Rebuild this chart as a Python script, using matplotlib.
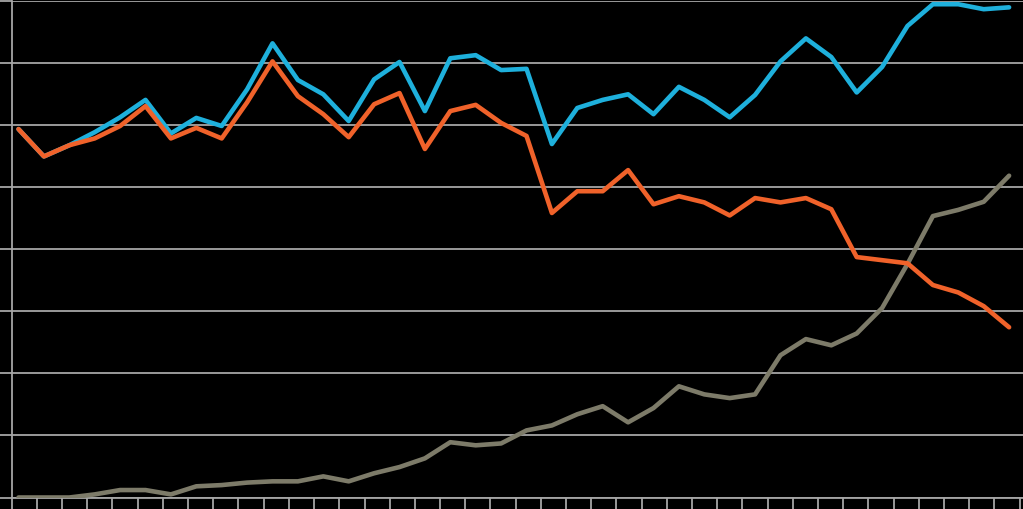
import matplotlib
matplotlib.use("Agg")
import matplotlib.pyplot as plt
import numpy as np

# Values (gridline step = 10 units, 0..80)
blue = [59.3, 54.9, 56.7, 58.8, 61.2, 64.0, 58.6, 61.1, 59.8, 65.7,
        73.1, 67.2, 64.9, 60.6, 67.3, 70.1, 62.2, 70.7, 71.2, 68.8,
        69.0, 56.9, 62.7, 64.0, 64.9, 61.7, 66.1, 64.0, 61.2, 64.8,
        70.2, 73.9, 70.9, 65.2, 69.3, 75.9, 79.4, 79.4, 78.6, 78.9]
orange = [59.3, 54.9, 56.7, 57.8, 59.8, 63.0, 57.8, 59.5, 57.8, 63.6,
          70.2, 64.6, 61.7, 58.0, 63.3, 65.1, 56.1, 62.2, 63.2, 60.3,
          58.2, 45.8, 49.3, 49.3, 52.7, 47.2, 48.5, 47.5, 45.4, 48.2,
          47.5, 48.2, 46.4, 38.7, 38.2, 37.7, 34.2, 33.0, 30.8, 27.4]
gray = [0.0, 0.0, 0.0, 0.5, 1.2, 1.2, 0.5, 1.8, 2.0, 2.4,
        2.6, 2.6, 3.4, 2.6, 3.9, 4.9, 6.3, 8.9, 8.4, 8.7,
        10.8, 11.6, 13.4, 14.7, 12.1, 14.4, 17.9, 16.6, 16.0, 16.6,
        22.9, 25.5, 24.5, 26.4, 30.5, 37.6, 45.3, 46.3, 47.6, 51.8]

W, H = 1023, 510
fig = plt.figure(figsize=(W / 100, H / 100), dpi=100, facecolor="black")
ax = fig.add_axes([11.7 / W, (H - 498.5) / H, (W - 11.7) / W, (498.5 - 1.5) / H])
ax.set_facecolor("black")

x = np.arange(len(blue))
grid_c = "#a6a6a6"

ax.set_ylim(0, 80)
ax.set_yticks(np.arange(0, 81, 10))
ax.yaxis.grid(True, color=grid_c, linewidth=1.3)
ax.set_axisbelow(True)

ax.plot(x, gray, color="#7d7b69", linewidth=3.3, solid_capstyle="round", zorder=3)
ax.plot(x, blue, color="#1eb0dc", linewidth=3.3, solid_capstyle="round", zorder=4)
ax.plot(x, orange, color="#f0622a", linewidth=3.3, solid_capstyle="round", zorder=5)

step = 25.4
x0 = (11.7 - 18.5) / step
ax.set_xlim(x0, (W - 18.5) / step)
ax.set_xticks([x0 + k * 25.2 / step for k in range(41)])

ax.tick_params(axis="both", colors=grid_c, labelleft=False, labelbottom=False,
               width=1.3)
ax.tick_params(axis="x", length=12, direction="out")
ax.tick_params(axis="y", length=9, direction="out")

for s in ["top", "right"]:
    ax.spines[s].set_visible(False)
for s in ["left", "bottom"]:
    ax.spines[s].set_color(grid_c)
    ax.spines[s].set_linewidth(1.3)

fig.savefig("out.png", dpi=100, facecolor="black")
